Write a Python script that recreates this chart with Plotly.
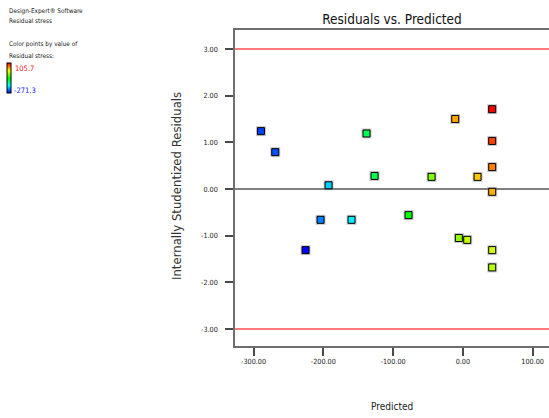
import plotly.graph_objects as go

# Residual diagnostics for the "Residual stress" response
predicted = [-289.4, -268.9, -225.5, -204.0, -192.5, -159.6, -138.1, -126.6, -77.9, -44.9,
             -11.0, -5.8, 6.2, 21.0, 42.0, 42.0, 42.0, 42.0, 42.0, 42.0]
residuals = [1.24, 0.79, -1.31, -0.66, 0.08, -0.66, 1.19, 0.28, -0.56, 0.26,
             1.50, -1.05, -1.09, 0.26, 1.71, 1.03, 0.47, -0.06, -1.31, -1.68]
residual_stress = [-248, -241, -271.3, -224, -196, -184, -112, -110, -79, -36,
                   45, -30, -11, 32, 105.7, 82, 59, 41, -5, -14]

stress_min, stress_max = -271.3, 105.7
limit = 3.0

x_ticks = [-300, -200, -100, 0, 100]
x_tick_labels = ["-300.00", "-200.00", "-100.00", "0.00", "100.00"]
y_ticks = [-3, -2, -1, 0, 1, 2, 3]
y_tick_labels = ["-3.00", "-2.00", "-1.00", "0.00", "1.00", "2.00", "3.00"]

FONT = "DejaVu Sans Condensed, Liberation Sans Narrow, Arial Narrow, Liberation Sans, Arial, sans-serif"
W, H = 549, 418
ML, MR, MT, MB = 235, 0, 30, 72
PW, PH = W - ML - MR, H - MT - MB


def px_x(p):
    return (p - ML) / PW


def px_y(p):
    return (H - MB - p) / PH


rainbow = [[0.0, "#0000ff"], [0.25, "#00ffff"], [0.5, "#00ff00"],
           [0.75, "#ffff00"], [1.0, "#ff0000"]]

fig = go.Figure()

# soft grey halo behind each marker
fig.add_trace(go.Scatter(
    x=predicted, y=residuals, mode="markers", hoverinfo="skip",
    marker=dict(symbol="square", size=10, color="rgba(120,120,120,0.4)",
                line=dict(width=0)),
    showlegend=False,
))

fig.add_trace(go.Scatter(
    x=predicted, y=residuals, mode="markers",
    marker=dict(
        symbol="square", size=7,
        color=residual_stress, cmin=stress_min, cmax=stress_max,
        colorscale=rainbow,
        line=dict(color="black", width=1),
        colorbar=dict(
            xref="paper", yref="paper",
            x=px_x(7), xanchor="left", y=px_y(63), yanchor="top",
            lenmode="pixels", len=30, thicknessmode="pixels", thickness=4,
            xpad=0, ypad=0, outlinewidth=1, outlinecolor="black",
            showticklabels=False, ticks="",
        ),
    ),
    showlegend=False,
))

# control limits at +/- 3
for lv in (limit, -limit):
    fig.add_shape(type="line", xref="paper", x0=0, x1=1, yref="y", y0=lv, y1=lv,
                  line=dict(color="#ff5050", width=1.5), layer="below")

axis_common = dict(
    showgrid=False, showline=True, linecolor="#6e6e6e", linewidth=1.5,
    ticks="outside", ticklen=8, tickwidth=1.5, tickcolor="#4a4a4a",
    tickfont=dict(family=FONT, size=7.2, color="#222222"),
)

fig.update_xaxes(
    range=[-326.6, 123.4], tickvals=x_ticks, ticktext=x_tick_labels,
    mirror=True, zeroline=False, **axis_common,
)
fig.update_yaxes(
    range=[-3.364, 3.407], tickvals=y_ticks, ticktext=y_tick_labels,
    zeroline=True, zerolinecolor="#808080", zerolinewidth=1.5,
    ticklabelstandoff=6, **axis_common,
)

notes = [
    ("Design-Expert® Software", 11, "#222222"),
    ("Residual stress", 21, "#222222"),
    ("Color points by value of", 44, "#222222"),
    ("Residual stress:", 56, "#222222"),
]
annotations = [
    dict(text=t, x=px_x(7), y=px_y(yy), xref="paper", yref="paper",
         xanchor="left", yanchor="middle", showarrow=False,
         font=dict(family=FONT, size=6.4, color=c))
    for t, yy, c in notes
]
annotations += [
    dict(text=f"{stress_max}", x=px_x(13), y=px_y(68), xref="paper", yref="paper",
         xanchor="left", yanchor="middle", showarrow=False,
         font=dict(family=FONT, size=7.5, color="#ff2020")),
    dict(text=f"{stress_min}", x=px_x(12), y=px_y(90), xref="paper", yref="paper",
         xanchor="left", yanchor="middle", showarrow=False,
         font=dict(family=FONT, size=7.5, color="#2020ff")),
    dict(text="Internally Studentized Residuals", x=px_x(176), y=px_y(186),
         xref="paper", yref="paper", xanchor="center", yanchor="middle",
         textangle=-90, showarrow=False,
         font=dict(family=FONT, size=13, color="#333333")),
    dict(text="Predicted", x=0.5, y=px_y(406), xref="paper", yref="paper",
         xanchor="center", yanchor="middle", showarrow=False,
         font=dict(family=FONT, size=10, color="#222222")),
]

fig.update_layout(
    width=W, height=H,
    margin=dict(l=ML, r=MR, t=MT, b=MB),
    paper_bgcolor="white", plot_bgcolor="white",
    title=dict(text="Residuals vs. Predicted", x=0.5, xref="paper", xanchor="center",
               y=1 - 19 / H, yanchor="middle",
               font=dict(family=FONT, size=13.5, color="#111111")),
    annotations=annotations,
    showlegend=False,
)

fig.write_html("out.html")
